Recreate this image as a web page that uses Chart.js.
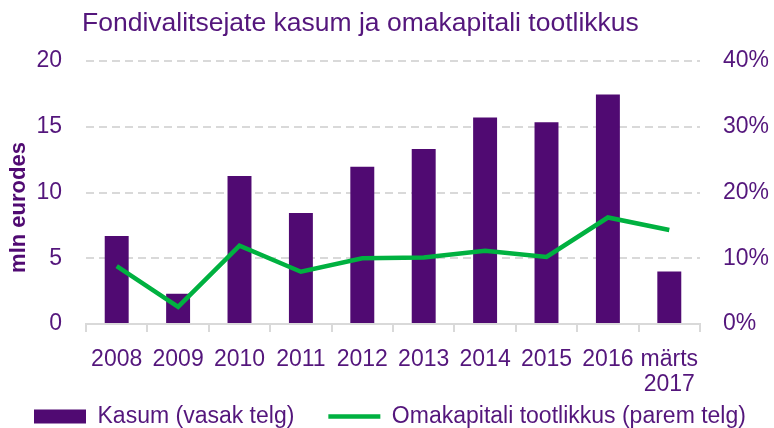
<!DOCTYPE html>
<html>
<head>
<meta charset="utf-8">
<script src="https://cdn.jsdelivr.net/npm/chart.js@4/dist/chart.umd.min.js"></script>
<style>
  html, body { margin: 0; padding: 0; background: #fff; }
  #wrap { width: 774px; height: 428px; }
</style>
</head>
<body>
<div id="wrap"><canvas id="chart"></canvas></div>
<script>
// data
var years = ["2008", "2009", "2010", "2011", "2012", "2013", "2014", "2015", "2016", ["märts", "2017"]];
var kasum = [6.7, 2.3, 11.25, 8.45, 11.95, 13.3, 15.7, 15.35, 17.45, 4.0];        // mln eurot, vasak telg
var tootlikkus = [8.8, 2.6, 11.9, 7.95, 10.0, 10.1, 11.15, 10.2, 16.2, 14.3];    // %, parem telg
var leftTicks = [0, 5, 10, 15, 20];
var rightTicks = [0, 10, 20, 30, 40];

var purple = "#500a72";
var textPurple = "#54167c";
var green = "#00b140";
var gridGrey = "#d9d9d9";
var fontFamily = "'Liberation Sans', Arial, sans-serif";

// chart title and left axis title, placed relative to the plot area
var titlePlugin = {
  id: "titles",
  afterDraw: function(chart) {
    var ctx = chart.ctx;
    var area = chart.chartArea;
    ctx.save();
    ctx.fillStyle = textPurple;
    ctx.textBaseline = "middle";
    ctx.textAlign = "left";
    ctx.font = "26.5px " + fontFamily;
    ctx.fillText("Fondivalitsejate kasum ja omakapitali tootlikkus", area.left - 4, 24);
    // y axis title
    ctx.translate(19, area.top + (area.bottom - area.top) / 2 + 15);
    ctx.rotate(-Math.PI / 2);
    ctx.textAlign = "center";
    ctx.fillStyle = purple;
    ctx.font = "bold 22px " + fontFamily;
    ctx.fillText("mln eurodes", 0, 0);
    ctx.restore();
  }
};

// legend: small height in the layout, then stretched up under the two-line last label
var legendFit = {
  id: "legendFit",
  beforeInit: function(chart) {
    var orig = chart.legend.fit;
    chart.legend.fit = function() {
      orig.call(this);
      this.height = 32;
    };
  },
  afterLayout: function(chart) {
    var lg = chart.legend;
    lg.top = chart.height - 57;
    lg.bottom = chart.height;
    lg.height = 57;
    // a bit of extra room on the right so the second item stays on the same row
    lg.right = chart.width + 30;
    lg.width = lg.right - lg.left;
  }
};

new Chart(document.getElementById("chart"), {
  type: "bar",
  data: {
    labels: years,
    datasets: [
      {
        label: "Kasum (vasak telg)",
        data: kasum,
        backgroundColor: purple,
        borderWidth: 0,
        barPercentage: 0.39,
        categoryPercentage: 1,
        yAxisID: "y",
        order: 1,
        pointStyle: "rect"
      },
      {
        type: "line",
        label: "Omakapitali tootlikkus (parem telg)",
        data: tootlikkus,
        borderColor: green,
        backgroundColor: green,
        borderWidth: 4.5,
        pointRadius: 0,
        tension: 0,
        yAxisID: "y2",
        order: 0,
        pointStyle: "line"
      }
    ]
  },
  options: {
    responsive: true,
    maintainAspectRatio: false,
    animation: false,
    layout: { padding: { top: 61, left: 0, right: 0, bottom: 0 } },
    plugins: {
      tooltip: { enabled: false },
      legend: {
        position: "bottom",
        align: "start",
        labels: {
          usePointStyle: true,
          pointStyleWidth: 52,
          boxHeight: 14,
          padding: 34,
          color: textPurple,
          font: { family: fontFamily, size: 23 },
          sort: function(a, b) { return a.datasetIndex - b.datasetIndex; }
        }
      }
    },
    scales: {
      x: {
        grid: {
          offset: true,
          drawOnChartArea: false,
          drawTicks: true,
          tickLength: 8,
          color: gridGrey,
          lineWidth: 2
        },
        border: { display: true, color: gridGrey, width: 2 },
        ticks: {
          color: textPurple,
          padding: 15,
          maxRotation: 0,
          autoSkip: false,
          font: { family: fontFamily, size: 23, lineHeight: 1.1 }
        },
        afterFit: function(scale) { scale.height = 72; }
      },
      y: {
        position: "left",
        min: 0,
        max: 20,
        afterBuildTicks: function(scale) {
          scale.ticks = leftTicks.map(function(v) { return { value: v }; });
        },
        grid: {
          drawTicks: false,
          color: function(c) { return c.tick && c.tick.value === 0 ? "rgba(0,0,0,0)" : gridGrey; },
          lineWidth: 2
        },
        border: { display: false, dash: [8, 5] },
        ticks: {
          color: textPurple,
          padding: 24,
          font: { family: fontFamily, size: 23 }
        },
        afterFit: function(scale) { scale.width = 86; }
      },
      y2: {
        position: "right",
        min: 0,
        max: 40,
        afterBuildTicks: function(scale) {
          scale.ticks = rightTicks.map(function(v) { return { value: v }; });
        },
        grid: { display: false, drawTicks: false },
        border: { display: false },
        ticks: {
          color: textPurple,
          padding: 23,
          font: { family: fontFamily, size: 23 },
          callback: function(v) { return v + "%"; }
        },
        afterFit: function(scale) { scale.width = 74; }
      }
    }
  },
  plugins: [titlePlugin, legendFit]
});
</script>
</body>
</html>
